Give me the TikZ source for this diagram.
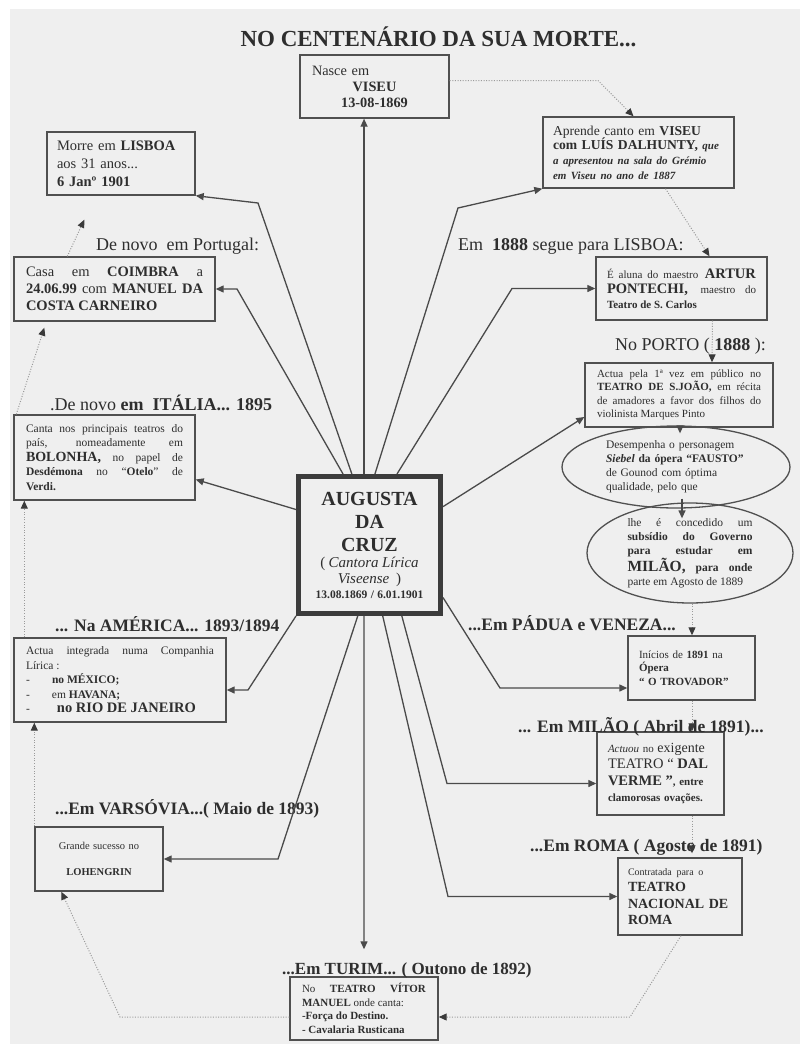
\documentclass[tikz,border=0pt]{standalone}
\usepackage{fontspec}
\setmainfont{Liberation Serif}
\usetikzlibrary{arrows.meta,calc,shapes.geometric}
\definecolor{bgc}{HTML}{EFEFEF}
\definecolor{txt}{HTML}{2E2E2E}
\definecolor{boxc}{HTML}{505050}
\definecolor{cboxc}{HTML}{3C3C3C}
\definecolor{linec}{HTML}{4A4A4A}
\definecolor{dotc}{HTML}{9A9A9A}
\definecolor{arrc}{HTML}{3A3A3A}
\newcommand\myfs[2]{\fontsize{#1}{#2}\selectfont}
\begin{document}
\begin{tikzpicture}[x=1pt,y=-1pt,
  box/.style={draw=boxc,line width=1.4pt,inner ysep=0pt,text=txt,align=justify},
  lab/.style={anchor=base west,inner sep=0pt,text=txt,font={\myfs{17.5}{20}\bfseries}},
  labr/.style={anchor=base west,inner sep=0pt,text=txt,font={\myfs{18}{20}}},
  conn/.style={draw=linec,line width=1.3pt,-{Triangle[length=8pt,width=7pt]}},
  dconn/.style={draw=dotc,line width=1pt,dash pattern=on 1pt off 1.6pt,-{Triangle[length=8pt,width=7pt,color=arrc]}},
]
\useasboundingbox (0,0) rectangle (800,1044);
\fill[white] (0,0) rectangle (800,1044);
\fill[bgc] (10,9) rectangle (800,1044);

% title
\node[anchor=base,inner sep=0pt,text=txt,font={\myfs{23}{26}\bfseries}] (title) at (438.5,46) {NO CENTENÁRIO DA SUA MORTE...};

% boxes
\node[box,align=left,minimum width=149pt,minimum height=63pt,text width=125pt,inner xsep=12pt,font={\myfs{14.3}{16}}] (nasce) at (374.5,86.5)
 {Nasce em\par{\centering\bfseries VISEU\\13-08-1869\par}};

\node[box,align=left,minimum width=148pt,minimum height=63pt,text width=128pt,inner xsep=10pt,font={\myfs{14.5}{18}}] (morre) at (121,163.5)
 {Morre em \textbf{LISBOA}\\aos 31 anos...\\\textbf{6 Janº 1901}};

\node[box,align=left,minimum width=191pt,minimum height=71pt,text width=171pt,inner xsep=10pt,font={\myfs{13.6}{14.6}}] (aprende) at (638.5,152.5)
 {Aprende canto em \textbf{VISEU}\\\textbf{com LUÍS DALHUNTY,} {\bfseries\itshape\myfs{11}{14.6}que}\\{\bfseries\itshape\myfs{11}{14.6}a apresentou na sala do Grémio\\em Viseu no ano de 1887}};

\node[box,minimum width=201pt,minimum height=64pt,text width=177pt,inner xsep=12pt,font={\myfs{14.5}{17}}] (casa) at (114.5,289)
 {Casa em \textbf{COIMBRA} a\linebreak\textbf{24.06.99} com \textbf{MANUEL DA}\linebreak\textbf{COSTA CARNEIRO}};

\node[box,minimum width=171pt,minimum height=63pt,text width=149pt,inner xsep=11pt,font={\myfs{14.5}{15}}] (aluna) at (681.5,288.5)
 {{\myfs{11}{15}É aluna do maestro} \textbf{ARTUR}\linebreak\textbf{PONTECHI,} {\myfs{11}{15}maestro do}\linebreak{\myfs{11}{15}\bfseries Teatro de S. Carlos}};

\node[box,minimum width=188pt,minimum height=64pt,text width=164pt,inner xsep=12pt,font={\myfs{11}{13.5}}] (actua) at (679,395)
 {Actua pela 1ª vez em público no\linebreak\textbf{TEATRO DE S.JOÃO,} em récita\linebreak de amadores a favor dos filhos do\linebreak violinista Marques Pinto};

\node[ellipse,draw=boxc,line width=1.3pt,minimum width=228pt,minimum height=82pt,inner sep=0pt,text=txt,text width=140pt,align=left,font={\myfs{11.5}{14}}] (ell1) at (676,467)
 {Desempenha o personagem\\\textbf{\textit{Siebel} da ópera “FAUSTO”}\\de Gounod com óptima\\qualidade, pelo que};

\node[ellipse,draw=boxc,line width=1.3pt,minimum width=206pt,minimum height=100pt,inner sep=0pt,text=txt,text width=125pt,align=justify,font={\myfs{11.5}{14}}] (ell2) at (690,553)
 {lhe é concedido um\linebreak\textbf{subsídio do Governo}\linebreak\textbf{para estudar em}\linebreak{\myfs{15.5}{14}\bfseries MILÃO,} \textbf{para onde}\linebreak parte em Agosto de 1889};

\node[box,minimum width=181pt,minimum height=85pt,text width=157pt,inner xsep=12pt,font={\myfs{11.5}{14.5}}] (canta) at (104.5,457.5)
 {Canta nos principais teatros do\linebreak país, nomeadamente em\linebreak{\myfs{14}{14.5}\bfseries BOLONHA,} no papel de\linebreak\textbf{Desdémona} no “\textbf{Otelo}” de\linebreak\textbf{Verdi.}};

\node[draw=cboxc,line width=5pt,minimum width=142pt,minimum height=137pt,inner sep=0pt,text width=135pt,align=center,text=txt] (cbox) at (369.5,545)
 {{\myfs{20}{23}\bfseries AUGUSTA\\DA\\CRUZ\par}{\myfs{15}{16}( \textit{Cantora Lírica}\\\textit{Viseense}\ \ )\par}{\myfs{11.5}{15}\bfseries 13.08.1869 / 6.01.1901\par}};

\node[box,minimum width=212pt,minimum height=84pt,text width=188pt,inner xsep=12pt,font={\myfs{11.5}{14.5}}] (america) at (120,680)
 {Actua integrada numa Companhia\linebreak Lírica :\\\makebox[26pt][l]{-}\textbf{no MÉXICO;}\\\makebox[26pt][l]{-}em \textbf{HAVANA;}\\\makebox[31pt][l]{-}{\myfs{14.5}{14.5}\bfseries no RIO DE JANEIRO}};

\node[box,align=center,minimum width=128pt,minimum height=64pt,text width=112pt,inner xsep=8pt,font={\myfs{10.5}{13}}] (varsovia) at (99,859)
 {Grande sucesso no\\[13pt]\textbf{LOHENGRIN}};

\node[box,minimum width=148pt,minimum height=63pt,text width=124pt,inner xsep=12pt,font={\myfs{11}{13.5}}] (turim) at (364,1008.5)
 {No \textbf{TEATRO VÍTOR}\linebreak\textbf{MANUEL} onde canta:\\\textbf{-Força do Destino.}\\\textbf{- Cavalaria Rusticana}};

\node[box,align=left,minimum width=127pt,minimum height=64pt,text width=105pt,inner xsep=11pt,font={\myfs{11}{13.5}}] (inicio) at (691.5,668)
 {Inícios de \textbf{1891} na\\\textbf{Ópera}\\\textbf{“ O TROVADOR”}};

\node[box,align=left,minimum width=127pt,minimum height=83pt,text width=105pt,inner xsep=11pt,font={\myfs{11}{16.5}}] (actuou) at (660.5,773.5)
 {{\itshape Actuou} no {\myfs{14}{16.5}exigente}\\{\myfs{14.5}{16.5}TEATRO “ \textbf{DAL}}\\{\myfs{14.5}{16.5}\bfseries VERME ”}\textbf{, entre}\\\textbf{clamorosas ovações.}};

\node[box,align=left,minimum width=124pt,minimum height=77pt,text width=104pt,inner xsep=10pt,font={\myfs{14}{16.5}}] (roma) at (680,896.5)
 {{\myfs{10}{16.5}Contratada para o}\\\textbf{TEATRO}\\\textbf{NACIONAL DE}\\\textbf{ROMA}};

% labels
\node[labr] (lport) at (96,250) {De novo\ \ em Portugal:};
\node[labr] (llis) at (458,250) {Em\ \ \textbf{1888} segue para LISBOA:};
\node[labr] (lporto) at (615,350) {No PORTO ( \textbf{1888} ):};
\node[labr] (lital) at (50,410) {.De novo \textbf{em\ \ ITÁLIA... 1895}};
\node[lab] (lamer) at (55,631) {... Na AMÉRICA... 1893/1894};
\node[lab] (lvars) at (55,814) {...Em VARSÓVIA...( Maio de 1893)};
\node[lab] (lpad) at (468,630) {...Em PÁDUA e VENEZA...};
\node[lab] (lmil) at (518,732) {... Em MILÃO ( Abril de 1891)...};
\node[lab] (lrom) at (530,851) {...Em ROMA ( Agosto de 1891)};
\node[lab,font={\myfs{17}{20}\bfseries}] (ltur) at (282,974) {...Em TURIM... ( Outono de 1892)};

% start points on the central box
\coordinate (sCasa) at ($(cbox.north west)!0.32!(cbox.north east)$);
\coordinate (sMorre) at ($(cbox.north west)!0.38!(cbox.north east)$);
\coordinate (sNasce) at ($(cbox.north west)!0.463!(cbox.north east)$);
\coordinate (sApr) at ($(cbox.north west)!0.537!(cbox.north east)$);
\coordinate (sAlu) at ($(cbox.north west)!0.687!(cbox.north east)$);
\coordinate (sAct) at ($(cbox.north east)!0.23!(cbox.south east)$);
\coordinate (sPad) at ($(cbox.north east)!0.87!(cbox.south east)$);
\coordinate (sCan) at ($(cbox.north west)!0.25!(cbox.south west)$);
\coordinate (sVar) at ($(cbox.south west)!0.42!(cbox.south east)$);
\coordinate (sTur) at ($(cbox.south west)!0.463!(cbox.south east)$);
\coordinate (sRom) at ($(cbox.south west)!0.59!(cbox.south east)$);
\coordinate (sMil) at ($(cbox.south west)!0.72!(cbox.south east)$);
% bends
\coordinate (kMorre) at (258,203);
\coordinate (kCasa) at (237,289);
\coordinate (kApr) at (458,208);
\coordinate (kAlu) at (512,288.5);
\coordinate (kAme) at (248,690);
\coordinate (kVar) at (278,859);
\coordinate (kRom) at (448,896.5);
\coordinate (kMil) at (447,783.5);
\coordinate (kPad) at (500,688);
\coordinate (d1) at (598,80.5);
\coordinate (d2) at (630,1017);
\coordinate (d3) at (120,1017);

% solid connectors
\draw[conn] (sNasce) -- (sNasce |- nasce.south);
\draw[conn] (sMorre) -- (kMorre) -- (morre.south east);
\draw[conn] (sCasa) -- (kCasa) -- (casa.east);
\draw[conn] (sApr) -- (kApr) -- (aprende.south west);
\draw[conn] (sAlu) -- (kAlu) -- (aluna.west);
\draw[conn] (sAct) -- ($(actua.west)+(0,22)$);
\draw[conn] (sCan) -- ($(canta.east)+(0,22)$);
\draw[conn] (cbox.south west) -- (kAme) -- ($(america.east)+(0,10)$);
\draw[conn] (sVar) -- (kVar) -- (varsovia.east);
\draw[conn] (sTur) -- ($(turim.north)+(0,-27)$);
\draw[conn] (sRom) -- (kRom) -- (roma.west);
\draw[conn] (sMil) -- (kMil) -- ($(actuou.west)+(0,10)$);
\draw[conn] (sPad) -- (kPad) -- ($(inicio.west)+(0,20)$);
\draw[conn] ($(actua.south)+(1,0)$) -- ($(ell1.north)+(4,8)$);
\draw[conn] ($(ell1.south)+(6,-10)$) -- ($(ell2.north)+(-8,16)$);

% dotted chain
\draw[dconn] ($(nasce.east)+(0,-6)$) -- (d1) -- ($(aprende.north)+(-5,0)$);
\draw[dconn] ($(aprende.south)+(27,0)$) -- ($(aluna.north)+(28,0)$);
\draw[dconn] ($(aluna.south)+(31,0)$) -- ($(actua.north)+(33,0)$);
\draw[dconn] ($(ell2.south)+(2,0)$) -- ($(inicio.north)+(0.5,0)$);
\draw[dconn] ($(inicio.south)+(0.5,0)$) -- ($(actuou.north)+(31.5,0)$);
\draw[dconn] ($(actuou.south)+(31.5,0)$) -- ($(roma.north)+(12,-4)$);
\draw[dconn] ($(roma.south)+(1,0)$) -- (d2) -- ($(turim.east)+(0,8.5)$);
\draw[dconn] ($(turim.west)+(0,8.5)$) -- (d3) -- ($(varsovia.south west)+(27,0)$);
\draw[dconn] (varsovia.north west) -- (varsovia.north west |- america.south);
\draw[dconn] ($(america.north west)+(11,0)$) -- ($(america.north west |- canta.south)+(11,0)$);
\draw[dconn] ($(canta.north west)+(3,0)$) -- ($(casa.south west)+(31,6)$);
\draw[dconn] ($(casa.north west)+(54,0)$) -- ($(morre.south west)+(38,24)$);
\end{tikzpicture}
\end{document}
